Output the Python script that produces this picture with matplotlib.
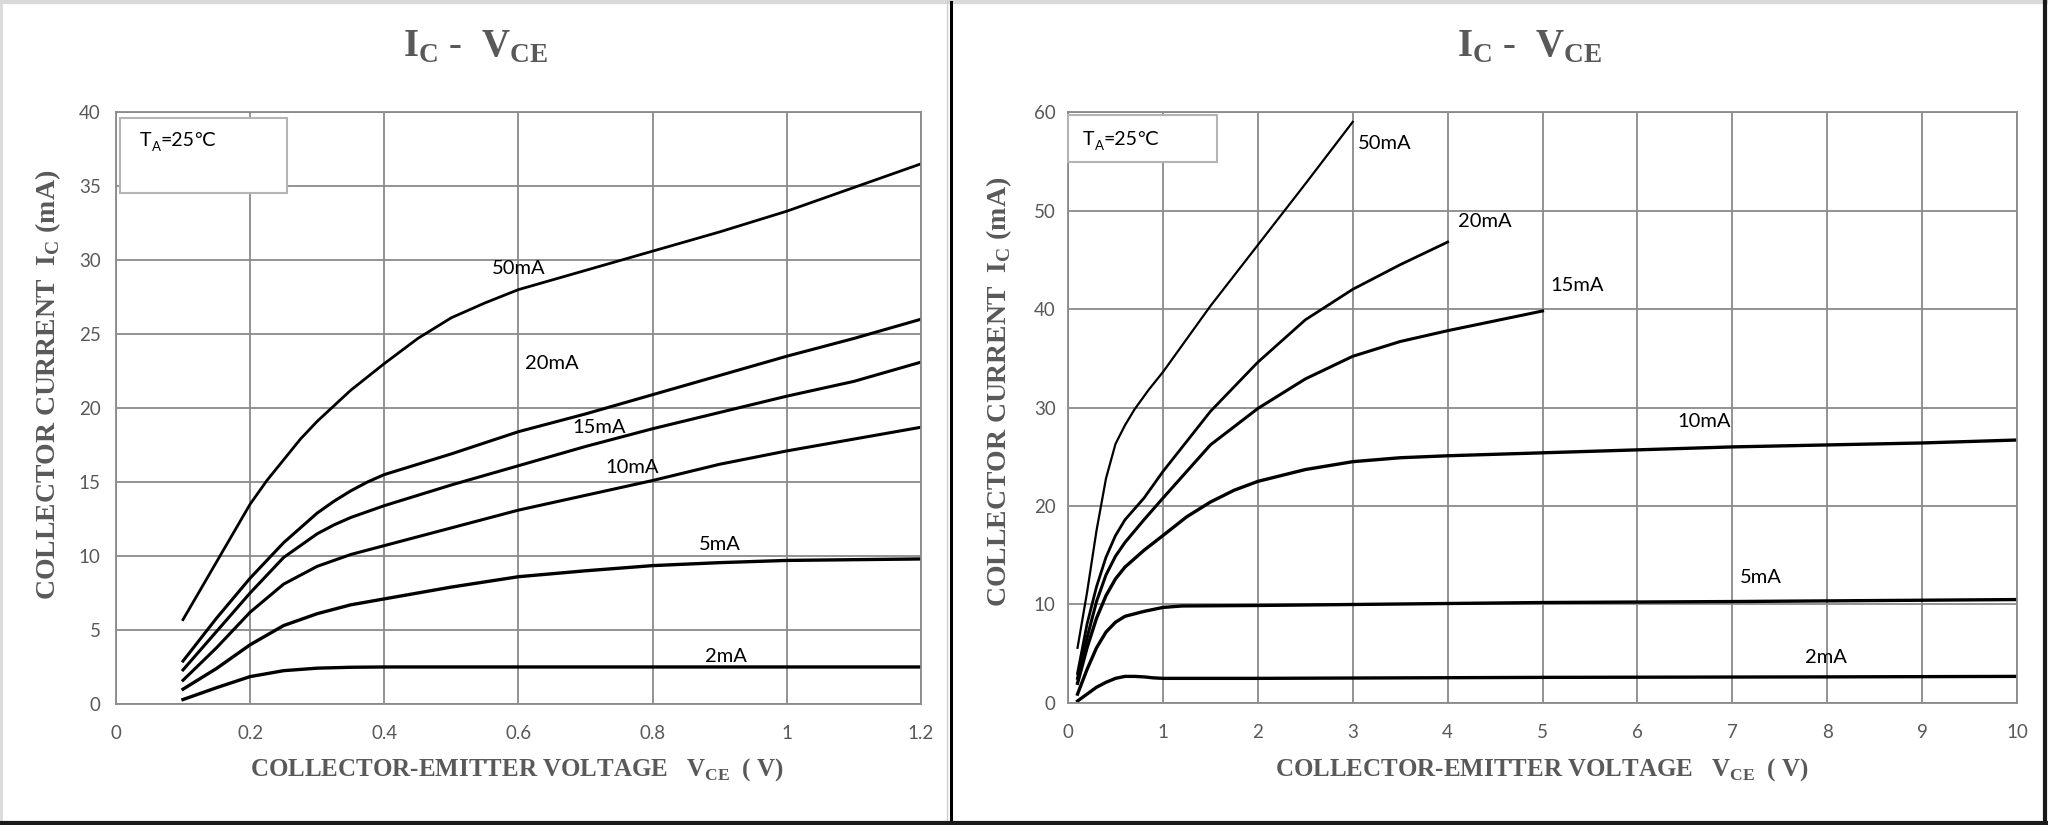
import numpy as np
import matplotlib
matplotlib.use("Agg")
import matplotlib.pyplot as plt
from matplotlib.patches import Rectangle
from matplotlib.lines import Line2D
from matplotlib.text import Annotation

plt.rcParams['mathtext.fontset'] = 'custom'
plt.rcParams['mathtext.rm'] = 'Liberation Serif:bold'
plt.rcParams['mathtext.bf'] = 'Liberation Serif:bold'

# ---- left chart: 0 .. 1.2 V ----
l_x50 = [0.1, 0.15, 0.2, 0.225, 0.25, 0.275, 0.3, 0.35, 0.4, 0.45, 0.5, 0.55, 0.6, 0.7, 0.8, 0.9, 1.0, 1.1, 1.2]
l_y50 = [5.7, 9.6, 13.5, 15.1, 16.5, 17.9, 19.1, 21.2, 23.0, 24.7, 26.1, 27.1, 28.0, 29.3, 30.6, 31.9, 33.3, 34.9, 36.5]
l_x = [0.1, 0.15, 0.2, 0.25, 0.3, 0.325, 0.35, 0.375, 0.4, 0.45, 0.5, 0.6, 0.7, 0.8, 0.9, 1.0, 1.1, 1.2]
l_y20 = [2.9, 5.8, 8.5, 10.9, 12.9, 13.7, 14.4, 15.0, 15.5, 16.2, 16.9, 18.4, 19.6, 20.9, 22.2, 23.5, 24.7, 26.0]
l_y15 = [2.3, 4.9, 7.5, 9.9, 11.5, 12.1, 12.6, 13.0, 13.4, 14.1, 14.8, 16.1, 17.4, 18.6, 19.7, 20.8, 21.8, 23.1]
l_y10 = [1.6, 3.8, 6.2, 8.1, 9.3, 9.7, 10.1, 10.4, 10.7, 11.3, 11.9, 13.1, 14.1, 15.1, 16.2, 17.1, 17.9, 18.7]
l_y5 = [1.0, 2.4, 4.0, 5.3, 6.1, 6.4, 6.7, 6.9, 7.1, 7.5, 7.9, 8.6, 9.0, 9.35, 9.55, 9.7, 9.75, 9.8]
l_x2 = [0.1, 0.15, 0.2, 0.25, 0.3, 0.35, 0.4, 0.6, 0.8, 1.0, 1.2]
l_y2 = [0.3, 1.1, 1.85, 2.25, 2.42, 2.48, 2.5, 2.5, 2.5, 2.5, 2.5]
l_labels = ['50mA', '20mA', '15mA', '10mA', '5mA', '2mA']
l_lab_x = [0.60, 0.65, 0.72, 0.77, 0.90, 0.91]
l_lab_y = [29.4, 23.0, 18.7, 16.0, 10.8, 3.2]

# ---- right chart: 0 .. 10 V ----
r_x50 = [0.1, 0.2, 0.3, 0.4, 0.5, 0.6, 0.7, 0.85, 1.0, 1.5, 2.0, 2.5, 3.0]
r_y50 = [5.6, 11.2, 17.5, 22.8, 26.3, 28.2, 29.8, 31.8, 33.6, 40.3, 46.5, 52.7, 59.0]
r_x20 = [0.1, 0.2, 0.3, 0.4, 0.5, 0.6, 0.8, 1.0, 1.5, 2.0, 2.5, 3.0, 3.5, 4.0]
r_y20 = [3.0, 8.0, 11.8, 14.8, 17.0, 18.6, 20.8, 23.5, 29.6, 34.6, 38.9, 42.0, 44.5, 46.8]
r_x15 = [0.1, 0.2, 0.3, 0.4, 0.5, 0.6, 0.8, 1.0, 1.5, 2.0, 2.5, 3.0, 3.5, 4.0, 4.5, 5.0]
r_y15 = [2.5, 6.6, 10.3, 13.0, 14.9, 16.3, 18.6, 20.8, 26.2, 29.9, 32.9, 35.2, 36.7, 37.8, 38.8, 39.8]
r_x10 = [0.1, 0.2, 0.3, 0.4, 0.5, 0.6, 0.8, 1.0, 1.25, 1.5, 1.75, 2.0, 2.5, 3.0, 3.5, 4, 5, 6, 7, 8, 9, 10]
r_y10 = [2.0, 5.6, 8.6, 10.9, 12.6, 13.8, 15.5, 17.0, 18.9, 20.4, 21.6, 22.5, 23.7, 24.5, 24.9, 25.1,
         25.4, 25.7, 26.0, 26.2, 26.4, 26.7]
r_x5 = [0.1, 0.2, 0.3, 0.4, 0.5, 0.6, 0.8, 1.0, 1.2, 2, 3, 5, 7, 10]
r_y5 = [0.9, 3.4, 5.6, 7.2, 8.2, 8.8, 9.3, 9.7, 9.85, 9.9, 10.0, 10.2, 10.3, 10.5]
r_x2 = [0.1, 0.2, 0.3, 0.4, 0.5, 0.6, 0.7, 0.8, 0.9, 1.0, 1.5, 2, 5, 8, 10]
r_y2 = [0.2, 0.9, 1.6, 2.1, 2.5, 2.7, 2.7, 2.65, 2.55, 2.5, 2.5, 2.5, 2.6, 2.65, 2.7]
r_labels = ['50mA', '20mA', '15mA', '10mA', '5mA', '2mA']
r_lab_x = [3.34, 4.39, 5.36, 6.70, 7.30, 7.99]
r_lab_y = [56.8, 48.9, 42.4, 28.6, 12.7, 4.6]

gray = '#595959'
grid_c = '#8a8a8a'

fig = plt.figure(figsize=(20.48, 8.25), dpi=100)

ax1 = fig.add_axes([0.0566, 0.1467, 0.3931, 0.7175])
ax2 = fig.add_axes([0.5215, 0.1479, 0.4634, 0.7163])


def style(ax, xmax, xstep, ymax, ystep, ypad):
    ax.set_xlim(0, xmax)
    ax.set_ylim(0, ymax)
    ax.set_xticks(np.arange(0, xmax + xstep / 2, xstep))
    ax.set_yticks(np.arange(0, ymax + ystep / 2, ystep))
    ax.grid(True, color=grid_c, lw=1.3)
    ax.set_axisbelow(True)
    for s in ax.spines.values():
        s.set_color(grid_c)
        s.set_linewidth(1.3)
    ax.tick_params(length=0, labelsize=13.5, labelcolor=gray)
    ax.tick_params(axis='x', pad=15)
    ax.tick_params(axis='y', pad=ypad)
    for t in ax.get_xticklabels() + ax.get_yticklabels():
        t.set_family('Lato')


style(ax1, 1.2, 0.2, 40, 5, 11)
ax1.set_xticklabels(['0', '0.2', '0.4', '0.6', '0.8', '1', '1.2'])
for t in ax1.get_xticklabels():
    t.set_family('Lato')
style(ax2, 10, 1, 60, 10, 9)

ax1.plot(l_x50, l_y50, color='black', lw=2.0)
ax1.plot(l_x, l_y20, color='black', lw=2.2)
ax1.plot(l_x, l_y15, color='black', lw=2.2)
ax1.plot(l_x, l_y10, color='black', lw=2.2)
ax1.plot(l_x, l_y5, color='black', lw=2.4)
ax1.plot(l_x2, l_y2, color='black', lw=2.4)
for lab, x, y in zip(l_labels, l_lab_x, l_lab_y):
    ax1.text(x, y, lab, fontsize=14.5, family='Lato', ha='center', va='center')

ax2.plot(r_x50, r_y50, color='black', lw=1.6)
ax2.plot(r_x20, r_y20, color='black', lw=2.0)
ax2.plot(r_x15, r_y15, color='black', lw=2.2)
ax2.plot(r_x10, r_y10, color='black', lw=2.4)
ax2.plot(r_x5, r_y5, color='black', lw=2.4)
ax2.plot(r_x2, r_y2, color='black', lw=2.4)
for lab, x, y in zip(r_labels, r_lab_x, r_lab_y):
    ax2.text(x, y, lab, fontsize=14.5, family='Lato', ha='center', va='center')


def temp_box(x0, y0, w, h, tx, ty):
    fig.patches.append(Rectangle((x0, y0), w, h, transform=fig.transFigure,
                                 facecolor='white', edgecolor='#b4b4b4', lw=1.5, zorder=5))
    t1 = fig.text(tx, ty, 'T', fontsize=14, family='Lato', va='baseline', zorder=6)
    t2 = Annotation('A', xy=(1, 0), xycoords=t1, xytext=(0.3, -3), textcoords='offset points',
                    fontsize=9.5, family='Lato', va='bottom', zorder=6)
    fig.add_artist(t2)
    t3 = Annotation('=25℃', xy=(1, 0), xycoords=t2, xytext=(0, 3), textcoords='offset points',
                    fontsize=14, family=['Lato', 'DejaVu Sans'], va='bottom', zorder=6)
    fig.add_artist(t3)


temp_box(0.0586, 0.766, 0.0815, 0.0909, 0.0684, 0.823)
temp_box(0.5215, 0.8036, 0.0728, 0.057, 0.5288, 0.824)

# titles and axis labels
ttl = r'I$_{\mathbf{C}}$ -  V$_{\mathbf{CE}}$'
fig.text(0.232, 0.931, ttl, fontsize=28, color=gray, family='Liberation Serif',
         weight='bold', ha='center', va='baseline')
fig.text(0.7466, 0.931, ttl, fontsize=28, color=gray, family='Liberation Serif',
         weight='bold', ha='center', va='baseline')

xl = r'COLLECTOR-EMITTER VOLTAGE   V$_{\mathbf{CE}}$  ( V)'
yl = r'COLLECTOR CURRENT  I$_{\mathbf{C}}$ (mA)'
for xx in (0.2524, 0.753):
    fig.text(xx, 0.0667, xl, fontsize=18, color=gray, family='Liberation Serif',
             weight='bold', ha='center', va='center')
fig.text(0.0234, 0.533, yl, fontsize=20, color=gray, family='Liberation Serif',
         weight='bold', ha='center', va='center', rotation=90)
fig.text(0.488, 0.525, yl, fontsize=20, color=gray, family='Liberation Serif',
         weight='bold', ha='center', va='center', rotation=90)

# panel frame lines
fig.add_artist(Line2D([0, 1], [0.998, 0.998], color='#d9d9d9', lw=3, transform=fig.transFigure))
fig.add_artist(Line2D([0.0005, 0.0005], [0, 1], color='#d9d9d9', lw=2, transform=fig.transFigure))
fig.add_artist(Line2D([0.4624, 0.4624], [0, 1], color='#cfcfcf', lw=1, transform=fig.transFigure))
fig.add_artist(Line2D([0.4644, 0.4644], [0, 0.997], color='black', lw=2.2, transform=fig.transFigure))
fig.add_artist(Line2D([0, 1], [0.003, 0.003], color='#1a1a1a', lw=3, transform=fig.transFigure))
fig.add_artist(Line2D([0.9985, 0.9985], [0, 0.997], color='#1a1a1a', lw=3, transform=fig.transFigure))

fig.savefig('out.png', dpi=100, facecolor='white')
